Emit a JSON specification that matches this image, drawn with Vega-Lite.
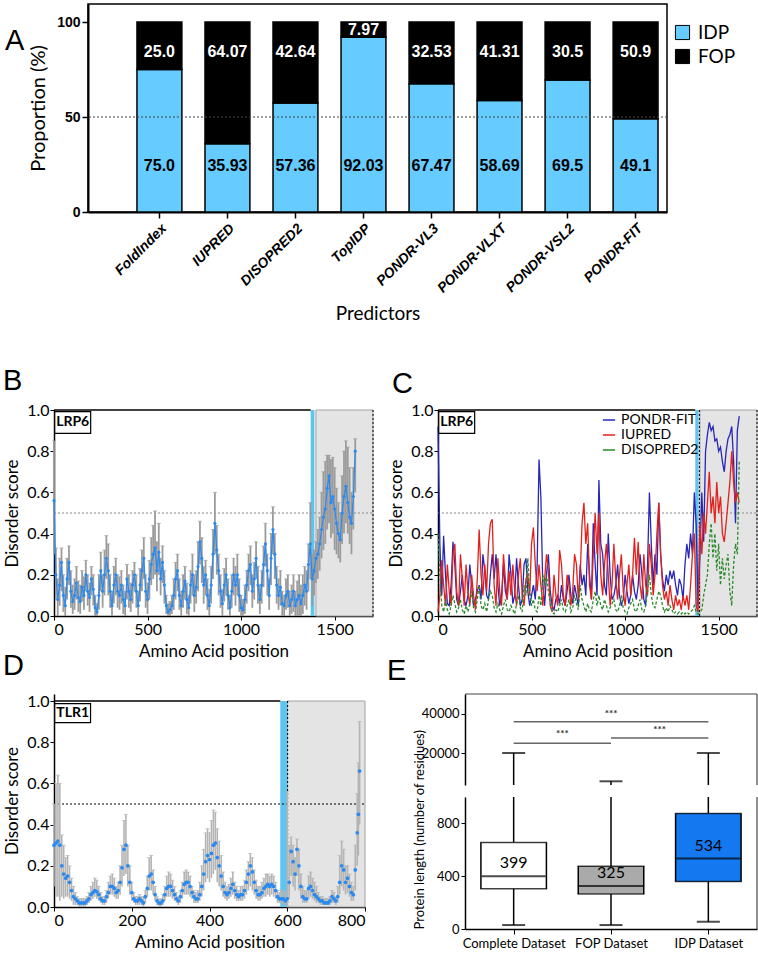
{
"$schema":"https://vega.github.io/schema/vega-lite/v6.json",
"background":"white",
"padding":{"left":3,"top":1,"right":0,"bottom":0},
"config":{
 "font":"Lato",
 "view":{"stroke":null},
 "axis":{"grid":false,"labelFont":"Lato","titleFont":"Lato","domainColor":"black","tickColor":"black","labelColor":"black","titleColor":"black","titleFontWeight":"normal"},
 "title":{"font":"Liberation Sans","fontWeight":"normal","fontSize":29,"anchor":"start","frame":"group","color":"black","baseline":"alphabetic"},
 "legend":{"labelFont":"Lato","labelColor":"black"}
},
"datasets":{
 "pred":[
  {"pred":"FoldIndex","IDP":75.0,"FOP":25.0,"idpL":"75.0","fopL":"25.0"},
  {"pred":"IUPRED","IDP":35.93,"FOP":64.07,"idpL":"35.93","fopL":"64.07"},
  {"pred":"DISOPRED2","IDP":57.36,"FOP":42.64,"idpL":"57.36","fopL":"42.64"},
  {"pred":"TopIDP","IDP":92.03,"FOP":7.97,"idpL":"92.03","fopL":"7.97"},
  {"pred":"PONDR-VL3","IDP":67.47,"FOP":32.53,"idpL":"67.47","fopL":"32.53"},
  {"pred":"PONDR-VLXT","IDP":58.69,"FOP":41.31,"idpL":"58.69","fopL":"41.31"},
  {"pred":"PONDR-VSL2","IDP":69.5,"FOP":30.5,"idpL":"69.5","fopL":"30.5"},
  {"pred":"PONDR-FIT","IDP":49.1,"FOP":50.9,"idpL":"49.1","fopL":"50.9"}
 ],
 "lrp6":[
{"p":0,"m":0.56,"lo":0.30,"hi":0.85},{"p":10,"m":0.20,"lo":0.08,"hi":0.33},{"p":20,"m":0.08,"lo":0.00,"hi":0.18},{"p":30,"m":0.15,"lo":0.05,"hi":0.28},{"p":40,"m":0.26,"lo":0.12,"hi":0.33},{"p":50,"m":0.10,"lo":0.02,"hi":0.20},{"p":60,"m":0.05,"lo":0.00,"hi":0.14},{"p":70,"m":0.18,"lo":0.08,"hi":0.28},{"p":80,"m":0.26,"lo":0.15,"hi":0.34},{"p":90,"m":0.12,"lo":0.04,"hi":0.22},
{"p":100,"m":0.07,"lo":0.01,"hi":0.15},{"p":110,"m":0.10,"lo":0.03,"hi":0.18},{"p":120,"m":0.16,"lo":0.08,"hi":0.24},{"p":130,"m":0.09,"lo":0.02,"hi":0.17},{"p":140,"m":0.07,"lo":0.01,"hi":0.15},{"p":150,"m":0.14,"lo":0.07,"hi":0.22},{"p":160,"m":0.10,"lo":0.03,"hi":0.19},{"p":170,"m":0.20,"lo":0.12,"hi":0.27},{"p":180,"m":0.12,"lo":0.05,"hi":0.20},{"p":190,"m":0.09,"lo":0.02,"hi":0.16},
{"p":200,"m":0.18,"lo":0.10,"hi":0.24},{"p":210,"m":0.13,"lo":0.05,"hi":0.20},{"p":220,"m":0.04,"lo":0.00,"hi":0.10},{"p":230,"m":0.02,"lo":0.00,"hi":0.06},{"p":240,"m":0.10,"lo":0.03,"hi":0.20},{"p":250,"m":0.22,"lo":0.12,"hi":0.31},{"p":260,"m":0.12,"lo":0.04,"hi":0.20},{"p":270,"m":0.20,"lo":0.10,"hi":0.32},{"p":280,"m":0.28,"lo":0.18,"hi":0.39},{"p":290,"m":0.22,"lo":0.10,"hi":0.35},
{"p":300,"m":0.12,"lo":0.04,"hi":0.20},{"p":310,"m":0.05,"lo":0.00,"hi":0.12},{"p":320,"m":0.15,"lo":0.06,"hi":0.24},{"p":330,"m":0.20,"lo":0.10,"hi":0.28},{"p":340,"m":0.12,"lo":0.04,"hi":0.20},{"p":350,"m":0.10,"lo":0.03,"hi":0.19},{"p":360,"m":0.15,"lo":0.06,"hi":0.22},{"p":370,"m":0.08,"lo":0.01,"hi":0.15},{"p":380,"m":0.05,"lo":0.00,"hi":0.12},{"p":390,"m":0.18,"lo":0.08,"hi":0.25},
{"p":400,"m":0.12,"lo":0.04,"hi":0.20},{"p":410,"m":0.08,"lo":0.02,"hi":0.16},{"p":420,"m":0.15,"lo":0.06,"hi":0.22},{"p":430,"m":0.20,"lo":0.12,"hi":0.26},{"p":440,"m":0.12,"lo":0.04,"hi":0.20},{"p":450,"m":0.05,"lo":0.00,"hi":0.12},{"p":460,"m":0.15,"lo":0.07,"hi":0.23},{"p":470,"m":0.22,"lo":0.12,"hi":0.32},{"p":480,"m":0.28,"lo":0.18,"hi":0.38},{"p":490,"m":0.12,"lo":0.04,"hi":0.20},
{"p":500,"m":0.08,"lo":0.01,"hi":0.16},{"p":510,"m":0.18,"lo":0.08,"hi":0.27},{"p":520,"m":0.25,"lo":0.15,"hi":0.38},{"p":530,"m":0.30,"lo":0.18,"hi":0.44},{"p":540,"m":0.33,"lo":0.20,"hi":0.51},{"p":550,"m":0.22,"lo":0.12,"hi":0.36},{"p":560,"m":0.31,"lo":0.20,"hi":0.45},{"p":570,"m":0.18,"lo":0.10,"hi":0.28},{"p":580,"m":0.26,"lo":0.16,"hi":0.34},{"p":590,"m":0.15,"lo":0.06,"hi":0.22},
{"p":600,"m":0.05,"lo":0.01,"hi":0.10},{"p":610,"m":0.02,"lo":0.00,"hi":0.06},{"p":620,"m":0.03,"lo":0.00,"hi":0.07},{"p":630,"m":0.05,"lo":0.01,"hi":0.10},{"p":640,"m":0.10,"lo":0.03,"hi":0.18},{"p":650,"m":0.18,"lo":0.08,"hi":0.26},{"p":660,"m":0.22,"lo":0.12,"hi":0.30},{"p":670,"m":0.10,"lo":0.03,"hi":0.18},{"p":680,"m":0.05,"lo":0.00,"hi":0.12},{"p":690,"m":0.12,"lo":0.04,"hi":0.20},
{"p":700,"m":0.17,"lo":0.08,"hi":0.24},{"p":710,"m":0.08,"lo":0.01,"hi":0.16},{"p":720,"m":0.04,"lo":0.00,"hi":0.10},{"p":730,"m":0.15,"lo":0.06,"hi":0.22},{"p":740,"m":0.20,"lo":0.10,"hi":0.30},{"p":750,"m":0.10,"lo":0.02,"hi":0.20},{"p":760,"m":0.14,"lo":0.06,"hi":0.22},{"p":770,"m":0.24,"lo":0.12,"hi":0.36},{"p":780,"m":0.36,"lo":0.25,"hi":0.46},{"p":790,"m":0.28,"lo":0.16,"hi":0.38},
{"p":800,"m":0.15,"lo":0.06,"hi":0.24},{"p":810,"m":0.20,"lo":0.10,"hi":0.27},{"p":820,"m":0.10,"lo":0.03,"hi":0.18},{"p":830,"m":0.05,"lo":0.00,"hi":0.13},{"p":840,"m":0.15,"lo":0.06,"hi":0.24},{"p":850,"m":0.30,"lo":0.18,"hi":0.42},{"p":860,"m":0.45,"lo":0.30,"hi":0.60},{"p":870,"m":0.32,"lo":0.20,"hi":0.44},{"p":880,"m":0.22,"lo":0.10,"hi":0.30},{"p":890,"m":0.12,"lo":0.04,"hi":0.20},
{"p":900,"m":0.06,"lo":0.00,"hi":0.13},{"p":910,"m":0.15,"lo":0.07,"hi":0.23},{"p":920,"m":0.20,"lo":0.10,"hi":0.28},{"p":930,"m":0.10,"lo":0.03,"hi":0.18},{"p":940,"m":0.04,"lo":0.00,"hi":0.10},{"p":950,"m":0.12,"lo":0.04,"hi":0.20},{"p":960,"m":0.20,"lo":0.10,"hi":0.28},{"p":970,"m":0.15,"lo":0.05,"hi":0.24},{"p":980,"m":0.20,"lo":0.10,"hi":0.30},{"p":990,"m":0.10,"lo":0.02,"hi":0.18},
{"p":1000,"m":0.04,"lo":0.00,"hi":0.10},{"p":1010,"m":0.03,"lo":0.00,"hi":0.08},{"p":1020,"m":0.08,"lo":0.01,"hi":0.15},{"p":1030,"m":0.15,"lo":0.06,"hi":0.22},{"p":1040,"m":0.22,"lo":0.12,"hi":0.30},{"p":1050,"m":0.25,"lo":0.15,"hi":0.34},{"p":1060,"m":0.12,"lo":0.04,"hi":0.20},{"p":1070,"m":0.18,"lo":0.08,"hi":0.26},{"p":1080,"m":0.28,"lo":0.18,"hi":0.36},{"p":1090,"m":0.15,"lo":0.06,"hi":0.24},
{"p":1100,"m":0.08,"lo":0.01,"hi":0.15},{"p":1110,"m":0.15,"lo":0.06,"hi":0.22},{"p":1120,"m":0.25,"lo":0.14,"hi":0.34},{"p":1130,"m":0.35,"lo":0.24,"hi":0.45},{"p":1140,"m":0.22,"lo":0.10,"hi":0.30},{"p":1150,"m":0.10,"lo":0.03,"hi":0.18},{"p":1160,"m":0.28,"lo":0.15,"hi":0.40},{"p":1170,"m":0.42,"lo":0.30,"hi":0.53},{"p":1180,"m":0.30,"lo":0.18,"hi":0.40},{"p":1190,"m":0.15,"lo":0.06,"hi":0.24},
{"p":1200,"m":0.10,"lo":0.03,"hi":0.18},{"p":1210,"m":0.14,"lo":0.05,"hi":0.22},{"p":1220,"m":0.06,"lo":0.00,"hi":0.12},{"p":1230,"m":0.05,"lo":0.00,"hi":0.10},{"p":1240,"m":0.10,"lo":0.03,"hi":0.18},{"p":1250,"m":0.12,"lo":0.04,"hi":0.20},{"p":1260,"m":0.05,"lo":0.00,"hi":0.12},{"p":1270,"m":0.08,"lo":0.01,"hi":0.15},{"p":1280,"m":0.12,"lo":0.02,"hi":0.20},{"p":1290,"m":0.05,"lo":0.00,"hi":0.12},
{"p":1300,"m":0.08,"lo":0.00,"hi":0.17},{"p":1310,"m":0.10,"lo":0.00,"hi":0.20},{"p":1320,"m":0.06,"lo":0.00,"hi":0.15},{"p":1330,"m":0.10,"lo":0.01,"hi":0.20},{"p":1340,"m":0.15,"lo":0.05,"hi":0.24},{"p":1350,"m":0.12,"lo":0.03,"hi":0.22},{"p":1360,"m":0.25,"lo":0.12,"hi":0.35},{"p":1370,"m":0.35,"lo":0.18,"hi":0.55},{"p":1380,"m":0.18,"lo":0.05,"hi":0.30},{"p":1390,"m":0.22,"lo":0.10,"hi":0.32},
{"p":1400,"m":0.28,"lo":0.16,"hi":0.36},{"p":1410,"m":0.30,"lo":0.18,"hi":0.42},{"p":1420,"m":0.35,"lo":0.22,"hi":0.48},{"p":1430,"m":0.42,"lo":0.28,"hi":0.60},{"p":1440,"m":0.48,"lo":0.32,"hi":0.70},{"p":1450,"m":0.52,"lo":0.35,"hi":0.75},{"p":1460,"m":0.62,"lo":0.42,"hi":0.78},{"p":1470,"m":0.68,"lo":0.45,"hi":0.78},{"p":1480,"m":0.55,"lo":0.38,"hi":0.76},{"p":1490,"m":0.58,"lo":0.40,"hi":0.77},
{"p":1500,"m":0.52,"lo":0.32,"hi":0.72},{"p":1510,"m":0.45,"lo":0.30,"hi":0.62},{"p":1520,"m":0.40,"lo":0.28,"hi":0.55},{"p":1530,"m":0.37,"lo":0.26,"hi":0.50},{"p":1540,"m":0.50,"lo":0.35,"hi":0.68},{"p":1550,"m":0.58,"lo":0.40,"hi":0.80},{"p":1560,"m":0.63,"lo":0.45,"hi":0.85},{"p":1570,"m":0.55,"lo":0.40,"hi":0.82},{"p":1580,"m":0.48,"lo":0.35,"hi":0.72},{"p":1590,"m":0.45,"lo":0.30,"hi":0.60},
{"p":1600,"m":0.58,"lo":0.42,"hi":0.72},{"p":1610,"m":0.80,"lo":0.60,"hi":0.86}
 ],
 "lrp6c":[
{"p":0,"f":0.92,"i":0.02,"d":0.40},{"p":10,"f":0.35,"i":0.10,"d":0.20},{"p":20,"f":0.10,"i":0.27,"d":0.05},{"p":30,"f":0.39,"i":0.15,"d":0.02},{"p":40,"f":0.20,"i":0.05,"d":0.08},{"p":50,"f":0.06,"i":0.25,"d":0.03},{"p":60,"f":0.05,"i":0.12,"d":0.01},{"p":70,"f":0.15,"i":0.05,"d":0.05},{"p":80,"f":0.36,"i":0.30,"d":0.10},{"p":90,"f":0.25,"i":0.35,"d":0.06},
{"p":100,"f":0.08,"i":0.12,"d":0.02},{"p":110,"f":0.05,"i":0.05,"d":0.04},{"p":120,"f":0.12,"i":0.30,"d":0.08},{"p":130,"f":0.20,"i":0.18,"d":0.03},{"p":140,"f":0.08,"i":0.05,"d":0.01},{"p":150,"f":0.05,"i":0.25,"d":0.05},{"p":160,"f":0.10,"i":0.12,"d":0.02},{"p":170,"f":0.25,"i":0.05,"d":0.06},{"p":180,"f":0.15,"i":0.20,"d":0.12},{"p":190,"f":0.05,"i":0.10,"d":0.04},
{"p":200,"f":0.08,"i":0.03,"d":0.02},{"p":210,"f":0.12,"i":0.18,"d":0.08},{"p":220,"f":0.15,"i":0.42,"d":0.15},{"p":230,"f":0.08,"i":0.20,"d":0.05},{"p":240,"f":0.30,"i":0.10,"d":0.03},{"p":250,"f":0.22,"i":0.25,"d":0.06},{"p":260,"f":0.10,"i":0.12,"d":0.02},{"p":270,"f":0.08,"i":0.35,"d":0.08},{"p":280,"f":0.20,"i":0.45,"d":0.12},{"p":290,"f":0.30,"i":0.47,"d":0.10},
{"p":300,"f":0.18,"i":0.15,"d":0.04},{"p":310,"f":0.30,"i":0.05,"d":0.02},{"p":320,"f":0.15,"i":0.28,"d":0.06},{"p":330,"f":0.05,"i":0.12,"d":0.03},{"p":340,"f":0.10,"i":0.05,"d":0.01},{"p":350,"f":0.25,"i":0.30,"d":0.05},{"p":360,"f":0.12,"i":0.18,"d":0.08},{"p":370,"f":0.08,"i":0.08,"d":0.03},{"p":380,"f":0.30,"i":0.22,"d":0.02},{"p":390,"f":0.20,"i":0.10,"d":0.05},
{"p":400,"f":0.06,"i":0.25,"d":0.03},{"p":410,"f":0.10,"i":0.12,"d":0.01},{"p":420,"f":0.28,"i":0.05,"d":0.06},{"p":430,"f":0.15,"i":0.20,"d":0.10},{"p":440,"f":0.05,"i":0.28,"d":0.04},{"p":450,"f":0.08,"i":0.10,"d":0.02},{"p":460,"f":0.25,"i":0.05,"d":0.15},{"p":470,"f":0.28,"i":0.18,"d":0.10},{"p":480,"f":0.12,"i":0.20,"d":0.28},{"p":490,"f":0.05,"i":0.10,"d":0.12},
{"p":500,"f":0.10,"i":0.35,"d":0.05},{"p":510,"f":0.15,"i":0.43,"d":0.08},{"p":520,"f":0.08,"i":0.25,"d":0.03},{"p":530,"f":0.25,"i":0.12,"d":0.02},{"p":540,"f":0.76,"i":0.25,"d":0.10},{"p":550,"f":0.57,"i":0.15,"d":0.05},{"p":560,"f":0.15,"i":0.05,"d":0.20},{"p":570,"f":0.05,"i":0.18,"d":0.15},{"p":580,"f":0.20,"i":0.30,"d":0.20},{"p":590,"f":0.30,"i":0.22,"d":0.12},
{"p":600,"f":0.12,"i":0.05,"d":0.06},{"p":610,"f":0.05,"i":0.02,"d":0.02},{"p":620,"f":0.03,"i":0.20,"d":0.01},{"p":630,"f":0.08,"i":0.10,"d":0.03},{"p":640,"f":0.10,"i":0.05,"d":0.02},{"p":650,"f":0.06,"i":0.32,"d":0.05},{"p":660,"f":0.15,"i":0.25,"d":0.08},{"p":670,"f":0.08,"i":0.10,"d":0.03},{"p":680,"f":0.05,"i":0.05,"d":0.02},{"p":690,"f":0.12,"i":0.20,"d":0.05},
{"p":700,"f":0.20,"i":0.15,"d":0.08},{"p":710,"f":0.10,"i":0.05,"d":0.02},{"p":720,"f":0.06,"i":0.12,"d":0.04},{"p":730,"f":0.15,"i":0.30,"d":0.10},{"p":740,"f":0.10,"i":0.25,"d":0.06},{"p":750,"f":0.05,"i":0.08,"d":0.03},{"p":760,"f":0.25,"i":0.20,"d":0.15},{"p":770,"f":0.15,"i":0.45,"d":0.08},{"p":780,"f":0.20,"i":0.55,"d":0.05},{"p":790,"f":0.10,"i":0.35,"d":0.02},
{"p":800,"f":0.35,"i":0.45,"d":0.06},{"p":810,"f":0.20,"i":0.15,"d":0.03},{"p":820,"f":0.08,"i":0.08,"d":0.02},{"p":830,"f":0.45,"i":0.30,"d":0.08},{"p":840,"f":0.25,"i":0.50,"d":0.12},{"p":850,"f":0.10,"i":0.30,"d":0.05},{"p":860,"f":0.66,"i":0.50,"d":0.10},{"p":870,"f":0.35,"i":0.20,"d":0.05},{"p":880,"f":0.30,"i":0.10,"d":0.03},{"p":890,"f":0.15,"i":0.25,"d":0.08},
{"p":900,"f":0.10,"i":0.35,"d":0.05},{"p":910,"f":0.40,"i":0.20,"d":0.02},{"p":920,"f":0.20,"i":0.05,"d":0.04},{"p":930,"f":0.08,"i":0.15,"d":0.06},{"p":940,"f":0.10,"i":0.35,"d":0.08},{"p":950,"f":0.15,"i":0.18,"d":0.03},{"p":960,"f":0.25,"i":0.08,"d":0.02},{"p":970,"f":0.10,"i":0.20,"d":0.05},{"p":980,"f":0.05,"i":0.30,"d":0.10},{"p":990,"f":0.08,"i":0.12,"d":0.04},
{"p":1000,"f":0.20,"i":0.05,"d":0.02},{"p":1010,"f":0.12,"i":0.15,"d":0.01},{"p":1020,"f":0.06,"i":0.25,"d":0.04},{"p":1030,"f":0.10,"i":0.10,"d":0.06},{"p":1040,"f":0.20,"i":0.20,"d":0.08},{"p":1050,"f":0.12,"i":0.38,"d":0.03},{"p":1060,"f":0.08,"i":0.20,"d":0.02},{"p":1070,"f":0.15,"i":0.36,"d":0.05},{"p":1080,"f":0.30,"i":0.15,"d":0.08},{"p":1090,"f":0.20,"i":0.08,"d":0.03},
{"p":1100,"f":0.08,"i":0.30,"d":0.02},{"p":1110,"f":0.05,"i":0.15,"d":0.05},{"p":1120,"f":0.25,"i":0.10,"d":0.12},{"p":1130,"f":0.60,"i":0.35,"d":0.20},{"p":1140,"f":0.35,"i":0.25,"d":0.10},{"p":1150,"f":0.15,"i":0.10,"d":0.05},{"p":1160,"f":0.30,"i":0.20,"d":0.04},{"p":1170,"f":0.20,"i":0.40,"d":0.08},{"p":1180,"f":0.55,"i":0.55,"d":0.12},{"p":1190,"f":0.30,"i":0.30,"d":0.10},
{"p":1200,"f":0.18,"i":0.15,"d":0.05},{"p":1210,"f":0.12,"i":0.08,"d":0.02},{"p":1220,"f":0.20,"i":0.12,"d":0.04},{"p":1230,"f":0.15,"i":0.05,"d":0.02},{"p":1240,"f":0.22,"i":0.15,"d":0.05},{"p":1250,"f":0.18,"i":0.08,"d":0.03},{"p":1260,"f":0.22,"i":0.03,"d":0.01},{"p":1270,"f":0.15,"i":0.10,"d":0.02},{"p":1280,"f":0.10,"i":0.05,"d":0.01},{"p":1290,"f":0.18,"i":0.08,"d":0.02},
{"p":1300,"f":0.15,"i":0.03,"d":0.01},{"p":1310,"f":0.08,"i":0.10,"d":0.02},{"p":1320,"f":0.25,"i":0.05,"d":0.01},{"p":1330,"f":0.35,"i":0.10,"d":0.02},{"p":1340,"f":0.28,"i":0.03,"d":0.01},{"p":1350,"f":0.40,"i":0.15,"d":0.02},{"p":1360,"f":0.30,"i":0.30,"d":0.03},{"p":1370,"f":0.60,"i":0.40,"d":0.05},{"p":1380,"f":0.44,"i":0.05,"d":0.02},{"p":1390,"f":0.05,"i":0.02,"d":0.01},
{"p":1400,"f":0.30,"i":0.45,"d":0.02},{"p":1410,"f":0.60,"i":0.30,"d":0.03},{"p":1420,"f":0.36,"i":0.50,"d":0.10},{"p":1430,"f":0.80,"i":0.40,"d":0.15},{"p":1440,"f":0.88,"i":0.55,"d":0.20},{"p":1450,"f":0.94,"i":0.70,"d":0.35},{"p":1460,"f":0.90,"i":0.50,"d":0.45},{"p":1470,"f":0.92,"i":0.58,"d":0.28},{"p":1480,"f":0.85,"i":0.45,"d":0.40},{"p":1490,"f":0.86,"i":0.65,"d":0.22},
{"p":1500,"f":0.80,"i":0.50,"d":0.35},{"p":1510,"f":0.82,"i":0.58,"d":0.15},{"p":1520,"f":0.75,"i":0.40,"d":0.28},{"p":1530,"f":0.70,"i":0.36,"d":0.18},{"p":1540,"f":0.80,"i":0.45,"d":0.25},{"p":1550,"f":0.86,"i":0.55,"d":0.30},{"p":1560,"f":0.88,"i":0.65,"d":0.12},{"p":1570,"f":0.92,"i":0.80,"d":0.05},{"p":1580,"f":0.75,"i":0.65,"d":0.25},{"p":1590,"f":0.45,"i":0.55,"d":0.35},
{"p":1600,"f":0.90,"i":0.60,"d":0.30},{"p":1610,"f":0.97,"i":0.55,"d":0.75}
 ],
 "tlr1":[
{"p":0,"m":0.30,"lo":0.10,"hi":0.50},{"p":5,"m":0.31,"lo":0.05,"hi":0.60},{"p":10,"m":0.32,"lo":0.05,"hi":0.64},{"p":15,"m":0.30,"lo":0.03,"hi":0.60},{"p":20,"m":0.20,"lo":0.05,"hi":0.35},{"p":25,"m":0.16,"lo":0.04,"hi":0.30},{"p":30,"m":0.14,"lo":0.05,"hi":0.24},{"p":35,"m":0.15,"lo":0.05,"hi":0.25},{"p":40,"m":0.12,"lo":0.04,"hi":0.20},{"p":45,"m":0.08,"lo":0.03,"hi":0.14},
{"p":50,"m":0.05,"lo":0.01,"hi":0.10},{"p":55,"m":0.04,"lo":0.01,"hi":0.07},{"p":60,"m":0.03,"lo":0.01,"hi":0.05},{"p":65,"m":0.02,"lo":0.00,"hi":0.04},{"p":70,"m":0.02,"lo":0.00,"hi":0.04},{"p":75,"m":0.02,"lo":0.00,"hi":0.04},{"p":80,"m":0.02,"lo":0.00,"hi":0.04},{"p":85,"m":0.03,"lo":0.01,"hi":0.05},{"p":90,"m":0.04,"lo":0.02,"hi":0.07},{"p":95,"m":0.06,"lo":0.03,"hi":0.10},
{"p":100,"m":0.07,"lo":0.04,"hi":0.12},{"p":105,"m":0.08,"lo":0.05,"hi":0.14},{"p":110,"m":0.075,"lo":0.04,"hi":0.13},{"p":115,"m":0.06,"lo":0.03,"hi":0.10},{"p":120,"m":0.04,"lo":0.02,"hi":0.07},{"p":125,"m":0.03,"lo":0.01,"hi":0.05},{"p":130,"m":0.03,"lo":0.01,"hi":0.05},{"p":135,"m":0.05,"lo":0.02,"hi":0.08},{"p":140,"m":0.07,"lo":0.04,"hi":0.12},{"p":145,"m":0.10,"lo":0.06,"hi":0.15},
{"p":150,"m":0.10,"lo":0.06,"hi":0.16},{"p":155,"m":0.09,"lo":0.05,"hi":0.14},{"p":160,"m":0.07,"lo":0.04,"hi":0.10},{"p":165,"m":0.08,"lo":0.04,"hi":0.12},{"p":170,"m":0.12,"lo":0.06,"hi":0.20},{"p":175,"m":0.19,"lo":0.10,"hi":0.30},{"p":180,"m":0.28,"lo":0.15,"hi":0.42},{"p":185,"m":0.30,"lo":0.16,"hi":0.45},{"p":190,"m":0.20,"lo":0.10,"hi":0.30},{"p":195,"m":0.12,"lo":0.06,"hi":0.20},
{"p":200,"m":0.07,"lo":0.03,"hi":0.12},{"p":205,"m":0.04,"lo":0.02,"hi":0.07},{"p":210,"m":0.03,"lo":0.01,"hi":0.05},{"p":215,"m":0.03,"lo":0.01,"hi":0.05},{"p":220,"m":0.04,"lo":0.01,"hi":0.06},{"p":225,"m":0.03,"lo":0.01,"hi":0.05},{"p":230,"m":0.02,"lo":0.00,"hi":0.05},{"p":235,"m":0.05,"lo":0.02,"hi":0.08},{"p":240,"m":0.09,"lo":0.05,"hi":0.15},{"p":245,"m":0.15,"lo":0.08,"hi":0.24},
{"p":250,"m":0.16,"lo":0.08,"hi":0.25},{"p":255,"m":0.12,"lo":0.06,"hi":0.18},{"p":260,"m":0.06,"lo":0.03,"hi":0.10},{"p":265,"m":0.03,"lo":0.01,"hi":0.05},{"p":270,"m":0.02,"lo":0.00,"hi":0.04},{"p":275,"m":0.02,"lo":0.00,"hi":0.04},{"p":280,"m":0.03,"lo":0.01,"hi":0.06},{"p":285,"m":0.06,"lo":0.03,"hi":0.10},{"p":290,"m":0.09,"lo":0.05,"hi":0.15},{"p":295,"m":0.10,"lo":0.05,"hi":0.17},
{"p":300,"m":0.10,"lo":0.05,"hi":0.16},{"p":305,"m":0.08,"lo":0.04,"hi":0.13},{"p":310,"m":0.06,"lo":0.03,"hi":0.10},{"p":315,"m":0.04,"lo":0.02,"hi":0.07},{"p":320,"m":0.03,"lo":0.01,"hi":0.05},{"p":325,"m":0.05,"lo":0.02,"hi":0.08},{"p":330,"m":0.08,"lo":0.04,"hi":0.12},{"p":335,"m":0.11,"lo":0.06,"hi":0.17},{"p":340,"m":0.12,"lo":0.06,"hi":0.18},{"p":345,"m":0.12,"lo":0.06,"hi":0.17},
{"p":350,"m":0.10,"lo":0.05,"hi":0.15},{"p":355,"m":0.07,"lo":0.04,"hi":0.10},{"p":360,"m":0.05,"lo":0.02,"hi":0.08},{"p":365,"m":0.04,"lo":0.02,"hi":0.07},{"p":370,"m":0.04,"lo":0.02,"hi":0.08},{"p":375,"m":0.06,"lo":0.03,"hi":0.12},{"p":380,"m":0.10,"lo":0.05,"hi":0.20},{"p":385,"m":0.16,"lo":0.08,"hi":0.28},{"p":390,"m":0.22,"lo":0.12,"hi":0.36},{"p":395,"m":0.25,"lo":0.14,"hi":0.38},
{"p":400,"m":0.23,"lo":0.12,"hi":0.36},{"p":405,"m":0.26,"lo":0.14,"hi":0.42},{"p":410,"m":0.30,"lo":0.16,"hi":0.47},{"p":415,"m":0.31,"lo":0.18,"hi":0.46},{"p":420,"m":0.24,"lo":0.12,"hi":0.38},{"p":425,"m":0.20,"lo":0.10,"hi":0.32},{"p":430,"m":0.15,"lo":0.08,"hi":0.25},{"p":435,"m":0.10,"lo":0.05,"hi":0.17},{"p":440,"m":0.07,"lo":0.04,"hi":0.12},{"p":445,"m":0.06,"lo":0.03,"hi":0.10},
{"p":450,"m":0.07,"lo":0.04,"hi":0.11},{"p":455,"m":0.09,"lo":0.05,"hi":0.14},{"p":460,"m":0.11,"lo":0.06,"hi":0.17},{"p":465,"m":0.08,"lo":0.04,"hi":0.12},{"p":470,"m":0.06,"lo":0.03,"hi":0.10},{"p":475,"m":0.05,"lo":0.03,"hi":0.08},{"p":480,"m":0.06,"lo":0.03,"hi":0.10},{"p":485,"m":0.06,"lo":0.03,"hi":0.10},{"p":490,"m":0.08,"lo":0.04,"hi":0.13},{"p":495,"m":0.12,"lo":0.06,"hi":0.18},
{"p":500,"m":0.16,"lo":0.08,"hi":0.22},{"p":505,"m":0.20,"lo":0.10,"hi":0.26},{"p":510,"m":0.17,"lo":0.08,"hi":0.24},{"p":515,"m":0.12,"lo":0.06,"hi":0.18},{"p":520,"m":0.08,"lo":0.04,"hi":0.13},{"p":525,"m":0.06,"lo":0.03,"hi":0.10},{"p":530,"m":0.06,"lo":0.03,"hi":0.10},{"p":535,"m":0.07,"lo":0.04,"hi":0.12},{"p":540,"m":0.09,"lo":0.05,"hi":0.14},{"p":545,"m":0.10,"lo":0.05,"hi":0.16},
{"p":550,"m":0.11,"lo":0.06,"hi":0.16},{"p":555,"m":0.10,"lo":0.05,"hi":0.15},{"p":560,"m":0.11,"lo":0.06,"hi":0.16},{"p":565,"m":0.10,"lo":0.05,"hi":0.15},{"p":570,"m":0.08,"lo":0.04,"hi":0.12},{"p":575,"m":0.05,"lo":0.02,"hi":0.08},{"p":580,"m":0.04,"lo":0.02,"hi":0.07},{"p":585,"m":0.04,"lo":0.02,"hi":0.08},{"p":590,"m":0.04,"lo":0.01,"hi":0.08},{"p":595,"m":0.03,"lo":0.01,"hi":0.07},
{"p":600,"m":0.04,"lo":0.00,"hi":0.56},{"p":605,"m":0.12,"lo":0.04,"hi":0.30},{"p":610,"m":0.27,"lo":0.15,"hi":0.34},{"p":615,"m":0.22,"lo":0.10,"hi":0.30},{"p":620,"m":0.16,"lo":0.08,"hi":0.24},{"p":625,"m":0.28,"lo":0.15,"hi":0.33},{"p":630,"m":0.20,"lo":0.08,"hi":0.28},{"p":635,"m":0.10,"lo":0.04,"hi":0.16},{"p":640,"m":0.05,"lo":0.02,"hi":0.10},{"p":645,"m":0.04,"lo":0.02,"hi":0.08},
{"p":650,"m":0.04,"lo":0.02,"hi":0.08},{"p":655,"m":0.09,"lo":0.04,"hi":0.15},{"p":660,"m":0.10,"lo":0.05,"hi":0.17},{"p":665,"m":0.08,"lo":0.04,"hi":0.14},{"p":670,"m":0.06,"lo":0.03,"hi":0.12},{"p":675,"m":0.05,"lo":0.02,"hi":0.10},{"p":680,"m":0.04,"lo":0.02,"hi":0.07},{"p":685,"m":0.03,"lo":0.01,"hi":0.05},{"p":690,"m":0.03,"lo":0.01,"hi":0.05},{"p":695,"m":0.02,"lo":0.01,"hi":0.04},
{"p":700,"m":0.02,"lo":0.01,"hi":0.04},{"p":705,"m":0.02,"lo":0.01,"hi":0.04},{"p":710,"m":0.03,"lo":0.01,"hi":0.05},{"p":715,"m":0.05,"lo":0.02,"hi":0.08},{"p":720,"m":0.04,"lo":0.02,"hi":0.07},{"p":725,"m":0.03,"lo":0.01,"hi":0.05},{"p":730,"m":0.05,"lo":0.02,"hi":0.10},{"p":735,"m":0.12,"lo":0.06,"hi":0.25},{"p":740,"m":0.20,"lo":0.10,"hi":0.32},{"p":745,"m":0.18,"lo":0.08,"hi":0.28},
{"p":750,"m":0.12,"lo":0.06,"hi":0.20},{"p":755,"m":0.14,"lo":0.07,"hi":0.20},{"p":760,"m":0.10,"lo":0.05,"hi":0.16},{"p":765,"m":0.07,"lo":0.03,"hi":0.12},{"p":770,"m":0.06,"lo":0.03,"hi":0.10},{"p":775,"m":0.18,"lo":0.08,"hi":0.30},{"p":780,"m":0.36,"lo":0.20,"hi":0.55},{"p":783,"m":0.45,"lo":0.25,"hi":0.70},{"p":786,"m":0.66,"lo":0.40,"hi":0.90}
 ],
 "box":[
  {"k":0,"ds":"Complete Dataset","mn":30,"q1":305,"md":399,"q3":655,"mx":20000,"lab":"399","n":"5316 proteins"},
  {"k":1,"ds":"FOP Dataset","mn":30,"q1":265,"md":325,"q3":475,"mx":5500,"lab":"325","n":"2706 proteins"},
  {"k":2,"ds":"IDP Dataset","mn":55,"q1":360,"md":534,"q3":875,"mx":20000,"lab":"534","n":"2610 proteins"}
 ]
},
"resolve":{"scale":{"color":"independent"},"legend":{"color":"independent"}},
"spacing":43,
"vconcat":[
 {"resolve":{"scale":{"color":"independent"},"legend":{"color":"independent"}},
  "bounds":"flush","spacing":10,
  "hconcat":[
   {"width":24,"height":1,
    "title":{"text":"A","orient":"bottom","dx":-49,"offset":20},
    "data":{"values":[{}]},"mark":{"type":"point","opacity":0},"encoding":{"x":{"datum":0,"type":"quantitative","axis":null},"y":{"datum":0,"type":"quantitative","axis":null}}},
   {"width":579,"height":208,
    "view":{"stroke":"black","strokeWidth":1.5},
    "data":{"name":"pred"},
    "layer":[
     {"transform":[{"fold":["IDP","FOP"],"as":["key","val"]}],
      "mark":{"type":"bar","stroke":"black","strokeWidth":1.5},
      "encoding":{
       "x":{"field":"pred","type":"nominal","sort":null,"title":"Predictors",
            "scale":{"paddingInner":0.34,"paddingOuter":0.426,"align":0.845},
            "axis":{"labelAngle":-45,"labelFont":"Liberation Sans","labelFontSize":14,"labelFontWeight":"bold","labelFontStyle":"italic","labelPadding":3,"tickSize":6,"tickWidth":1.5,"domainWidth":2,"titleFontSize":19,"titlePadding":9}},
       "y":{"field":"val","type":"quantitative","stack":"zero","title":"Proportion (%)",
            "scale":{"domain":[0,109.5],"nice":false},
            "axis":{"values":[0,50,100],"labelFontWeight":"bold","labelFontSize":14,"labelFont":"Liberation Sans","tickSize":6,"tickWidth":1.5,"domainWidth":2,"titleFontSize":20,"titlePadding":8}},
       "color":{"field":"key","type":"nominal","scale":{"domain":["IDP","FOP"],"range":["#66ccff","#000000"]},
            "legend":{"orient":"none","legendX":585,"legendY":19,"title":null,"symbolType":"square","symbolSize":200,"symbolStrokeColor":"black","symbolStrokeWidth":1,"symbolOpacity":1,"labelFontSize":19,"labelOffset":6,"rowPadding":4}},
       "order":{"field":"key","type":"nominal","sort":"descending"}
      }},
     {"data":{"values":[{}]},"mark":{"type":"rule","strokeDash":[2,2],"color":"#444","strokeWidth":1},
      "encoding":{"y":{"datum":50,"type":"quantitative"}}},
     {"mark":{"type":"text","font":"Liberation Sans","fontWeight":"bold","fontSize":16,"color":"black","baseline":"middle"},
      "encoding":{"x":{"field":"pred","type":"nominal","sort":null},"y":{"datum":24.3,"type":"quantitative"},"text":{"field":"idpL","type":"nominal"}}},
     {"transform":[{"filter":"datum.FOP >= 10"}],
      "mark":{"type":"text","font":"Liberation Sans","fontWeight":"bold","fontSize":16,"color":"white","baseline":"middle"},
      "encoding":{"x":{"field":"pred","type":"nominal","sort":null},"y":{"datum":84.3,"type":"quantitative"},"text":{"field":"fopL","type":"nominal"}}},
     {"transform":[{"filter":"datum.FOP < 10"}],
      "mark":{"type":"text","font":"Liberation Sans","fontWeight":"bold","fontSize":16,"color":"white","baseline":"middle"},
      "encoding":{"x":{"field":"pred","type":"nominal","sort":null},"y":{"datum":96,"type":"quantitative"},"text":{"field":"fopL","type":"nominal"}}}
    ]}
  ]},
 {"resolve":{"scale":{"color":"independent"},"legend":{"color":"independent"}},
  "spacing":-7,
  "vconcat":[
   {"resolve":{"scale":{"color":"independent"},"legend":{"color":"independent"}},
    "bounds":"flush","spacing":65,
    "hconcat":[
     {"width":319,"height":206,
      "view":{"stroke":null},
      "title":{"text":"B","dx":-51,"offset":6},
      "layer":[
       {"data":{"values":[{}]},"mark":{"type":"rect","fill":"#e4e4e4","stroke":"#a0a0a0","strokeWidth":1},
        "encoding":{
         "x":{"datum":1400,"type":"quantitative","scale":{"domain":[0,1705],"nice":false,"zero":false},
              "axis":{"title":"Amino Acid position","values":[0,500,1000,1500],"format":"d","labelFontSize":16,"tickSize":4,"labelPadding":1,"domainWidth":1.5,"titleFontSize":17,"titlePadding":6}},
         "x2":{"datum":1705},
         "y":{"datum":0,"type":"quantitative","scale":{"domain":[0,1],"nice":false},
              "axis":{"title":"Disorder score","values":[0,0.2,0.4,0.6,0.8,1],"format":".1f","labelFontSize":16,"tickSize":4,"labelPadding":1,"domainWidth":1.5,"titleFontSize":17,"titlePadding":5}},
         "y2":{"datum":1}}},
       {"data":{"values":[{}]},"mark":{"type":"rect","fill":"#5ec4f0"},
        "encoding":{"x":{"datum":1372,"type":"quantitative"},"x2":{"datum":1392},"y":{"datum":0,"type":"quantitative"},"y2":{"datum":1}}},
       {"data":{"values":[{}]},"mark":{"type":"rule","strokeDash":[2,2],"color":"black","strokeWidth":1},
        "encoding":{"x":{"datum":1705,"type":"quantitative"},"y":{"datum":0,"type":"quantitative"},"y2":{"datum":1}}},
       {"data":{"values":[{}]},"mark":{"type":"rule","color":"black","strokeWidth":1.5},
        "encoding":{"x":{"datum":0,"type":"quantitative"},"x2":{"datum":1372},"y":{"datum":1,"type":"quantitative"}}},
       {"data":{"values":[{}]},"mark":{"type":"rule","strokeDash":[2,2],"color":"#888","strokeWidth":1},
        "encoding":{"x":{"datum":0,"type":"quantitative"},"x2":{"datum":1705},"y":{"datum":0.5,"type":"quantitative"}}},
       {"data":{"name":"lrp6"},"mark":{"type":"rule","color":"#9b9b9b","strokeWidth":1.8},
        "encoding":{"x":{"field":"p","type":"quantitative"},"y":{"field":"lo","type":"quantitative"},"y2":{"field":"hi"}}},
       {"data":{"name":"lrp6"},"mark":{"type":"tick","orient":"horizontal","color":"#9b9b9b","size":4,"thickness":1},
        "encoding":{"x":{"field":"p","type":"quantitative"},"y":{"field":"hi","type":"quantitative"}}},
       {"data":{"name":"lrp6"},"mark":{"type":"line","color":"#2a8af0","strokeWidth":1.2},
        "encoding":{"x":{"field":"p","type":"quantitative"},"y":{"field":"m","type":"quantitative"}}},
       {"data":{"name":"lrp6"},"mark":{"type":"circle","color":"#2a8af0","size":10,"opacity":1},
        "encoding":{"x":{"field":"p","type":"quantitative"},"y":{"field":"m","type":"quantitative"}}},
       {"data":{"values":[{}]},"mark":{"type":"rect","fill":"white","stroke":"black","strokeWidth":1.2},
        "encoding":{"x":{"datum":4,"type":"quantitative"},"x2":{"datum":196},"y":{"datum":0.887,"type":"quantitative"},"y2":{"datum":0.992}}},
       {"data":{"values":[{}]},"mark":{"type":"text","text":"LRP6","font":"Lato","fontWeight":"bold","fontSize":14,"color":"black","baseline":"middle"},
        "encoding":{"x":{"datum":100,"type":"quantitative"},"y":{"datum":0.94,"type":"quantitative"}}}
      ]},
     {"width":319,"height":206,
      "view":{"stroke":null},
      "title":{"text":"C","dx":-46,"offset":3},
      "layer":[
       {"data":{"values":[{}]},"mark":{"type":"rect","fill":"#e4e4e4","stroke":"#a0a0a0","strokeWidth":1},
        "encoding":{
         "x":{"datum":1400,"type":"quantitative","scale":{"domain":[0,1705],"nice":false,"zero":false},
              "axis":{"title":"Amino Acid position","values":[0,500,1000,1500],"format":"d","labelFontSize":16,"tickSize":4,"labelPadding":1,"domainWidth":1.5,"titleFontSize":17,"titlePadding":6}},
         "x2":{"datum":1705},
         "y":{"datum":0,"type":"quantitative","scale":{"domain":[0,1],"nice":false},
              "axis":{"title":"Disorder score","values":[0,0.2,0.4,0.6,0.8,1],"format":".1f","labelFontSize":16,"tickSize":4,"labelPadding":1,"domainWidth":1.5,"titleFontSize":17,"titlePadding":5}},
         "y2":{"datum":1}}},
       {"data":{"values":[{}]},"mark":{"type":"rect","fill":"#5ec4f0"},
        "encoding":{"x":{"datum":1375,"type":"quantitative"},"x2":{"datum":1393},"y":{"datum":0,"type":"quantitative"},"y2":{"datum":1}}},
       {"data":{"values":[{}]},"mark":{"type":"rule","strokeDash":[2,2],"color":"black","strokeWidth":1},
        "encoding":{"x":{"datum":1397,"type":"quantitative"},"y":{"datum":0,"type":"quantitative"},"y2":{"datum":1}}},
       {"data":{"values":[{}]},"mark":{"type":"rule","strokeDash":[2,2],"color":"black","strokeWidth":1},
        "encoding":{"x":{"datum":1705,"type":"quantitative"},"y":{"datum":0,"type":"quantitative"},"y2":{"datum":1}}},
       {"data":{"values":[{}]},"mark":{"type":"rule","color":"black","strokeWidth":1.5},
        "encoding":{"x":{"datum":0,"type":"quantitative"},"x2":{"datum":1375},"y":{"datum":1,"type":"quantitative"}}},
       {"data":{"values":[{}]},"mark":{"type":"rule","strokeDash":[2,2],"color":"#888","strokeWidth":1},
        "encoding":{"x":{"datum":0,"type":"quantitative"},"x2":{"datum":1705},"y":{"datum":0.5,"type":"quantitative"}}},
       {"data":{"name":"lrp6c"},"transform":[{"fold":["f","i","d"],"as":["s","v"]}],
        "mark":{"type":"line","strokeWidth":1.3},
        "encoding":{"x":{"field":"p","type":"quantitative"},"y":{"field":"v","type":"quantitative"},
         "color":{"field":"s","type":"nominal","scale":{"domain":["f","i","d"],"range":["#2626b8","#e4201c","#2a8a2a"]},
           "legend":{"orient":"none","legendX":164,"legendY":3,"title":null,"labelExpr":"datum.label == 'f' ? 'PONDR-FIT' : datum.label == 'i' ? 'IUPRED' : 'DISOPRED2'","labelFontSize":14,"symbolType":"stroke","symbolSize":150,"symbolStrokeWidth":1.5,"rowPadding":1,"labelOffset":5}},
         "strokeDash":{"field":"s","type":"nominal","scale":{"domain":["f","i","d"],"range":[[1,0],[1,0],[3,2]]},"legend":null}}},
       {"data":{"values":[{}]},"mark":{"type":"rect","fill":"white","stroke":"black","strokeWidth":1.2},
        "encoding":{"x":{"datum":4,"type":"quantitative"},"x2":{"datum":196},"y":{"datum":0.887,"type":"quantitative"},"y2":{"datum":0.992}}},
       {"data":{"values":[{}]},"mark":{"type":"text","text":"LRP6","font":"Lato","fontWeight":"bold","fontSize":14,"color":"black","baseline":"middle"},
        "encoding":{"x":{"datum":100,"type":"quantitative"},"y":{"datum":0.94,"type":"quantitative"}}}
      ]}
    ]},
   {"resolve":{"scale":{"color":"independent"},"legend":{"color":"independent"}},
    "bounds":"flush","spacing":100,
    "hconcat":[
     {"width":311,"height":213,
      "view":{"stroke":null},
      "title":{"text":"D","dx":-51,"offset":12},
      "layer":[
       {"data":{"values":[{}]},"mark":{"type":"rect","fill":"#e4e4e4","stroke":"#a0a0a0","strokeWidth":1},
        "encoding":{
         "x":{"datum":600,"type":"quantitative","scale":{"domain":[0,800],"nice":false,"zero":false},
              "axis":{"title":"Amino Acid position","values":[0,100,200,300,400,500,600,700,800],"labelFontSize":16,"tickSize":4,"labelPadding":1,"domainWidth":1.5,"titleFontSize":17,"titlePadding":6}},
         "x2":{"datum":800},
         "y":{"datum":0,"type":"quantitative","scale":{"domain":[0,1.034],"nice":false},
              "axis":{"title":"Disorder score","values":[0,0.2,0.4,0.6,0.8,1],"format":".1f","domainWidth":1.5,"labelFontSize":16,"tickSize":4,"labelPadding":1,"titleFontSize":17,"titlePadding":5}},
         "y2":{"datum":1}}},
       {"data":{"values":[{}]},"mark":{"type":"rect","fill":"#5ec4f0"},
        "encoding":{"x":{"datum":582,"type":"quantitative"},"x2":{"datum":600},"y":{"datum":0,"type":"quantitative"},"y2":{"datum":1}}},
       {"data":{"values":[{}]},"mark":{"type":"rule","strokeDash":[2,2],"color":"black","strokeWidth":1},
        "encoding":{"x":{"datum":601,"type":"quantitative"},"y":{"datum":0,"type":"quantitative"},"y2":{"datum":1}}},
       {"data":{"values":[{}]},"mark":{"type":"rule","color":"black","strokeWidth":1.5},
        "encoding":{"x":{"datum":0,"type":"quantitative"},"x2":{"datum":582},"y":{"datum":1,"type":"quantitative"}}},
       {"data":{"values":[{}]},"mark":{"type":"rule","strokeDash":[2,2],"color":"black","strokeWidth":1},
        "encoding":{"x":{"datum":0,"type":"quantitative"},"x2":{"datum":800},"y":{"datum":0.5,"type":"quantitative"}}},
       {"data":{"name":"tlr1"},"mark":{"type":"rule","color":"#b4b4b4","strokeWidth":1.6},
        "encoding":{"x":{"field":"p","type":"quantitative"},"y":{"field":"lo","type":"quantitative"},"y2":{"field":"hi"}}},
       {"data":{"name":"tlr1"},"mark":{"type":"tick","orient":"horizontal","color":"#b4b4b4","size":4,"thickness":1},
        "encoding":{"x":{"field":"p","type":"quantitative"},"y":{"field":"hi","type":"quantitative"}}},
       {"data":{"name":"tlr1"},"mark":{"type":"circle","color":"#2a8af0","size":14,"opacity":1},
        "encoding":{"x":{"field":"p","type":"quantitative"},"y":{"field":"m","type":"quantitative"}}},
       {"data":{"values":[{}]},"mark":{"type":"rect","fill":"white","stroke":"black","strokeWidth":1.2},
        "encoding":{"x":{"datum":2,"type":"quantitative"},"x2":{"datum":94},"y":{"datum":0.895,"type":"quantitative"},"y2":{"datum":0.987}}},
       {"data":{"values":[{}]},"mark":{"type":"text","text":"TLR1","font":"Lato","fontWeight":"bold","fontSize":14,"color":"black","baseline":"middle"},
        "encoding":{"x":{"datum":48,"type":"quantitative"},"y":{"datum":0.941,"type":"quantitative"}}}
      ]},
     {"resolve":{"scale":{"x":"independent","y":"independent"}},
      "bounds":"flush","spacing":12,
      "vconcat":[
       {"width":292,"height":91,
        "title":{"text":"E","dx":-78,"offset":7},
        "layer":[
         {"data":{"values":[{}]},"mark":{"type":"rule","color":"#444","strokeWidth":1.2},
          "encoding":{"x":{"datum":-0.5,"type":"quantitative","scale":{"domain":[-0.5,2.5],"nice":false,"zero":false},"axis":null},
           "x2":{"datum":2.5},
           "y":{"datum":50250,"type":"quantitative","scale":{"domain":[3600,50250],"nice":false,"zero":false},
            "axis":{"title":null,"values":[20000,40000],"format":"d","labelOverlap":false,"labelFontSize":13,"tickSize":4,"labelPadding":2,"domainWidth":1.5}}}},
         {"data":{"values":[{}]},"mark":{"type":"rule","color":"#444","strokeWidth":1.2},
          "encoding":{"x":{"datum":2.5,"type":"quantitative"},"y":{"datum":3600,"type":"quantitative"},"y2":{"datum":50250}}},
         {"data":{"name":"box"},"mark":{"type":"rule","color":"black","strokeWidth":1.5,"clip":true},
          "encoding":{"x":{"field":"k","type":"quantitative"},"y":{"field":"q3","type":"quantitative"},"y2":{"field":"mx"}}},
         {"data":{"name":"box"},"mark":{"type":"tick","orient":"horizontal","color":"black","size":23,"thickness":2},
          "encoding":{"x":{"field":"k","type":"quantitative"},"y":{"field":"mx","type":"quantitative"}}},
         {"data":{"values":[{}]},"mark":{"type":"rule","color":"#666","strokeWidth":1.5},
          "encoding":{"x":{"datum":0,"type":"quantitative"},"x2":{"datum":2},"y":{"datum":36000,"type":"quantitative"}}},
         {"data":{"values":[{}]},"mark":{"type":"rule","color":"#666","strokeWidth":1.5},
          "encoding":{"x":{"datum":0,"type":"quantitative"},"x2":{"datum":1},"y":{"datum":25000,"type":"quantitative"}}},
         {"data":{"values":[{}]},"mark":{"type":"rule","color":"#666","strokeWidth":1.5},
          "encoding":{"x":{"datum":1,"type":"quantitative"},"x2":{"datum":2},"y":{"datum":27700,"type":"quantitative"}}},
         {"data":{"values":[{}]},"mark":{"type":"text","text":"***","fontSize":10,"fontWeight":"bold","color":"#333","baseline":"middle"},
          "encoding":{"x":{"datum":1,"type":"quantitative"},"y":{"datum":40000,"type":"quantitative"}}},
         {"data":{"values":[{}]},"mark":{"type":"text","text":"***","fontSize":10,"fontWeight":"bold","color":"#333","baseline":"middle"},
          "encoding":{"x":{"datum":0.5,"type":"quantitative"},"y":{"datum":29500,"type":"quantitative"}}},
         {"data":{"values":[{}]},"mark":{"type":"text","text":"***","fontSize":10,"fontWeight":"bold","color":"#333","baseline":"middle"},
          "encoding":{"x":{"datum":1.5,"type":"quantitative"},"y":{"datum":32000,"type":"quantitative"}}}
        ]},
       {"width":292,"height":132,
        "layer":[
         {"data":{"values":[{}]},"mark":{"type":"rule","color":"#444","strokeWidth":1.2},
          "encoding":{"x":{"datum":2.5,"type":"quantitative","scale":{"domain":[-0.5,2.5],"nice":false,"zero":false},
             "axis":{"title":null,"values":[0,1,2],"labelExpr":"datum.value == 0 ? 'Complete Dataset' : datum.value == 1 ? 'FOP Dataset' : 'IDP Dataset'","labelFontSize":13,"labelPadding":3,"tickSize":5,"domainWidth":1.5,"labelOverlap":false,"labelFlush":false}},
           "y":{"datum":0,"type":"quantitative","scale":{"domain":[0,1000],"nice":false,"zero":false},
             "axis":{"title":"Protein length (number of residues)","titleAnchor":"start","values":[0,200,400,600,800,1000],"labelOverlap":false,"labelFontSize":13,"tickSize":4,"labelPadding":2,"domainWidth":1.5,"titleFontSize":13,"titlePadding":10}},
           "y2":{"datum":1000}}},
         {"data":{"name":"box"},"mark":{"type":"rule","color":"black","strokeWidth":1.5},
          "encoding":{"x":{"field":"k","type":"quantitative"},"y":{"field":"mn","type":"quantitative"},"y2":{"field":"q1"}}},
         {"data":{"name":"box"},"mark":{"type":"rule","color":"black","strokeWidth":1.5,"clip":true},
          "encoding":{"x":{"field":"k","type":"quantitative"},"y":{"field":"q3","type":"quantitative"},"y2":{"field":"mx"}}},
         {"data":{"name":"box"},"mark":{"type":"tick","orient":"horizontal","color":"black","size":23,"thickness":2},
          "encoding":{"x":{"field":"k","type":"quantitative"},"y":{"field":"mn","type":"quantitative"}}},
         {"data":{"name":"box"},"mark":{"type":"rule","color":"black","strokeWidth":67},
          "encoding":{"x":{"field":"k","type":"quantitative"},"y":{"field":"q1","type":"quantitative"},"y2":{"field":"q3"}}},
         {"data":{"name":"box"},"transform":[{"filter":"datum.k == 0"}],"mark":{"type":"rule","color":"#ffffff","strokeWidth":64},
          "encoding":{"x":{"field":"k","type":"quantitative"},"y":{"field":"q1","type":"quantitative"},"y2":{"field":"q3"}}},
         {"data":{"name":"box"},"transform":[{"filter":"datum.k == 1"}],"mark":{"type":"rule","color":"#aaaaaa","strokeWidth":64},
          "encoding":{"x":{"field":"k","type":"quantitative"},"y":{"field":"q1","type":"quantitative"},"y2":{"field":"q3"}}},
         {"data":{"name":"box"},"transform":[{"filter":"datum.k == 2"}],"mark":{"type":"rule","color":"#1479f0","strokeWidth":64},
          "encoding":{"x":{"field":"k","type":"quantitative"},"y":{"field":"q1","type":"quantitative"},"y2":{"field":"q3"}}},
         {"data":{"name":"box"},"mark":{"type":"tick","orient":"horizontal","color":"black","size":67,"thickness":1.5},
          "encoding":{"x":{"field":"k","type":"quantitative"},"y":{"field":"q1","type":"quantitative"}}},
         {"data":{"name":"box"},"mark":{"type":"tick","orient":"horizontal","color":"black","size":67,"thickness":1.5},
          "encoding":{"x":{"field":"k","type":"quantitative"},"y":{"field":"q3","type":"quantitative"}}},
         {"data":{"name":"box"},"mark":{"type":"tick","orient":"horizontal","color":"black","size":64,"thickness":2},
          "encoding":{"x":{"field":"k","type":"quantitative"},"y":{"field":"md","type":"quantitative"}}},
         {"data":{"name":"box"},"mark":{"type":"text","fontSize":16,"color":"black","baseline":"middle","dy":-13},
          "encoding":{"x":{"field":"k","type":"quantitative"},"y":{"field":"md","type":"quantitative"},"text":{"field":"lab","type":"nominal"}}},
         {"data":{"name":"box"},"mark":{"type":"text","fontSize":11,"color":"black","baseline":"middle","dy":31},
          "encoding":{"x":{"field":"k","type":"quantitative"},"y":{"datum":0,"type":"quantitative"},"text":{"field":"n","type":"nominal"}}}
        ]}
      ]}
    ]}
  ]}
]
}
